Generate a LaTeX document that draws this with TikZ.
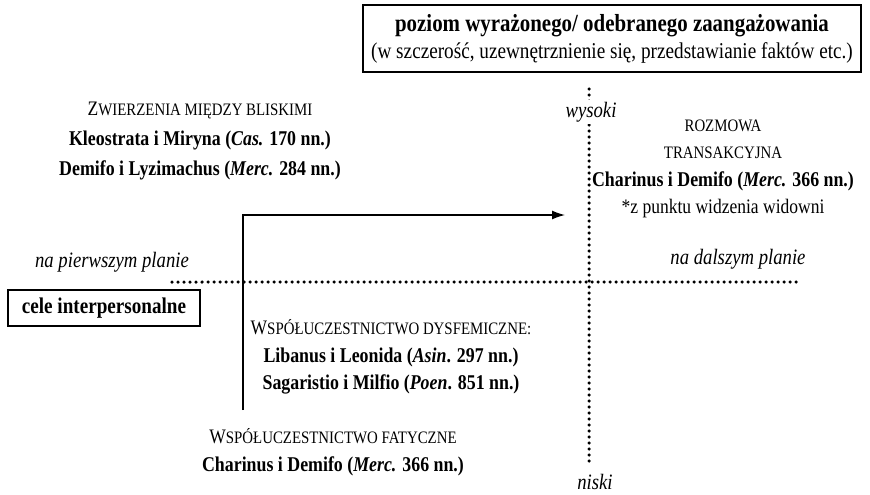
\documentclass[tikz,border=0pt]{standalone}
\usepackage{fontspec}
\setmainfont{Liberation Serif}[FakeStretch=0.85]
\usetikzlibrary{arrows,arrows.meta,shapes,positioning,calc}

\newcommand{\smallcap}[1]{{\fontsize{17.5}{20}\selectfont #1}}
\newcommand{\bline}[1]{{\fontsize{21}{20}\selectfont\bfseries #1}}

\begin{document}
\begin{tikzpicture}[x=1pt,y=-1pt,
	txt/.style={align=center,font=\fontsize{20.6}{27.5}\selectfont},
	lbl/.style={font=\fontsize{22}{24}\selectfont\itshape,inner sep=2pt},
	dots/.style={line width=3.5pt,line cap=round,dash pattern=on 0pt off 6pt}]
	\useasboundingbox (0,0) rectangle (870,495);

	\node[draw,line width=1.4pt,minimum width=498pt,minimum height=67pt,align=center,inner sep=0pt,
		font=\fontsize{22.6}{27}\selectfont] (level) at (612,38.5)
		{{\fontsize{24.6}{27}\selectfont\bfseries poziom wyrażonego/ odebranego zaangażowania}\\(w szczerość, uzewnętrznienie się, przedstawianie faktów etc.)};

	\draw[dots] (589,89) -- (589,462);
	\draw[dots] (172,282) -- (796,282);
	\node[lbl,fill=white] (high) at (591,112) {wysoki};
	\node[lbl] (low) at (595,482) {niski};
	\node[lbl] (near) at (112,262) {na pierwszym planie};
	\node[lbl] (far) at (738,259) {na dalszym planie};

	\node[draw,line width=1.2pt,minimum width=192pt,minimum height=36pt,font=\fontsize{22.5}{24}\selectfont\bfseries] (goals) at (104,308) {cele interpersonalne};

	\node[txt,font=\fontsize{20.6}{30}\selectfont] (close) at (200,141) {Z\smallcap{WIERZENIA MIĘDZY BLISKIMI}\\
		\bline{Kleostrata i Miryna (\textit{Cas.} 170 nn.)}\\
		\bline{Demifo i Lyzimachus (\textit{Merc.} 284 nn.)}};
	\node[txt] (trans) at (723,169) {\smallcap{ROZMOWA}\\\smallcap{TRANSAKCYJNA}\\
		\bline{Charinus i Demifo (\textit{Merc.} 366 nn.)}\\
		*z punktu widzenia widowni};
	\node[txt] (dysf) at (391,357) {W\smallcap{SPÓŁUCZESTNICTWO DYSFEMICZNE:}\\
		\bline{Libanus i Leonida (\textit{Asin}. 297 nn.)}\\
		\bline{Sagaristio i Milfio (\textit{Poen}. 851 nn.)}};
	\node[txt,font=\fontsize{20.6}{28}\selectfont] (phatic) at (333,452) {W\smallcap{SPÓŁUCZESTNICTWO FATYCZNE}\\
		\bline{Charinus i Demifo (\textit{Merc.} 366 nn.)}};

	\coordinate (tail) at (243,410);
	\coordinate (tip) at (565,215);
	\draw[line width=1.3pt,-{Latex[length=13pt,width=9pt]}] (tail) |- (tip);
\end{tikzpicture}
\end{document}
